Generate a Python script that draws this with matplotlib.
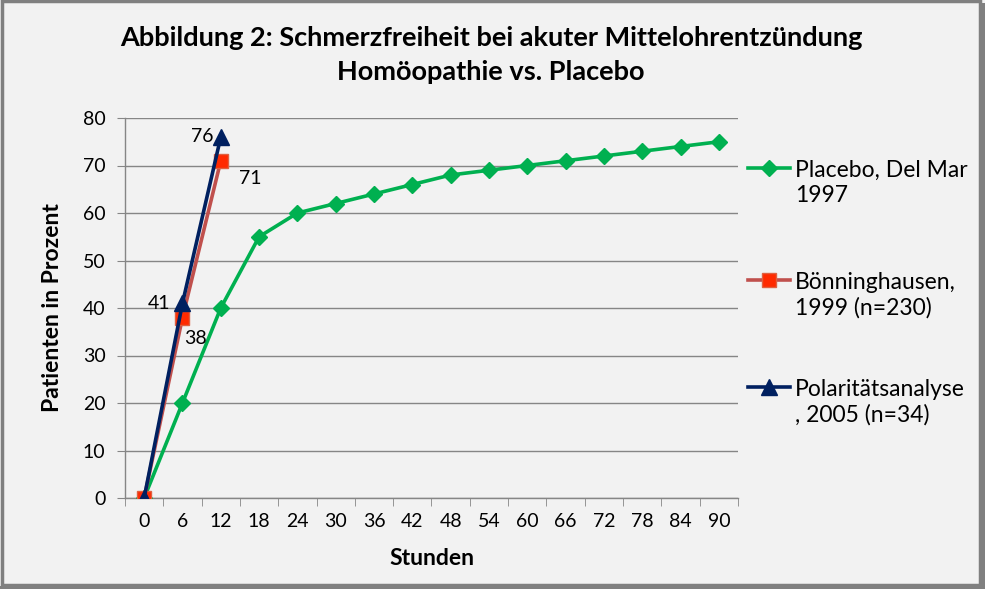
import matplotlib.pyplot as plt
from matplotlib.patches import Rectangle
from matplotlib.lines import Line2D

# Daten
stunden = [0, 6, 12, 18, 24, 30, 36, 42, 48, 54, 60, 66, 72, 78, 84, 90]
placebo = [0, 20, 40, 55, 60, 62, 64, 66, 68, 69, 70, 71, 72, 73, 74, 75]
boenninghausen = [0, 38, 71]
polaritaet = [0, 41, 76]

namen = ['Placebo, Del Mar\n1997', 'Bönninghausen,\n1999 (n=230)', 'Polaritätsanalyse\n, 2005 (n=34)']

plt.rcParams['font.family'] = ['Lato', 'DejaVu Sans']

bg = '#f2f2f2'
W, H = 985, 589
fig = plt.figure(figsize=(9.85, 5.89), dpi=100)
fig.patch.set_facecolor(bg)

# Rahmen mit Schatten
fig.patches.append(Rectangle((0.002, 0.006), 0.993, 0.992, transform=fig.transFigure,
                             facecolor='none', edgecolor='#808080', linewidth=2.5))
fig.patches.append(Rectangle((0.996, 0.0), 0.004, 0.995, transform=fig.transFigure,
                             facecolor='#808080', edgecolor='none'))
fig.patches.append(Rectangle((0.0, 0.0), 0.998, 0.005, transform=fig.transFigure,
                             facecolor='#808080', edgecolor='none'))

ax = fig.add_axes([125 / W, 1 - 498 / H, 613 / W, 380 / H])
ax.set_facecolor(bg)

stile = [
    dict(color='#00b050', lw=2.6, marker='D', ms=8, mfc='#00b050', mec='#00b050'),
    dict(color='#c0504d', lw=2.6, marker='s', ms=10.5, mfc='#ff2a00', mec='#e06040'),
    dict(color='#002060', lw=2.6, marker='^', ms=12, mfc='#002060', mec='#002060'),
]

x = list(range(len(stunden)))
ax.plot(x, placebo, zorder=3, **stile[0])
ax.plot(x[:3], boenninghausen, zorder=4, **stile[1])
ax.plot(x[:3], polaritaet, zorder=5, **stile[2])

# Datenbeschriftungen
ax.annotate(str(polaritaet[1]), (x[1], polaritaet[1]), xytext=(-17, 0), textcoords='offset points',
            ha='center', va='center', fontsize=14)
ax.annotate(str(polaritaet[2]), (x[2], polaritaet[2]), xytext=(-13, 0), textcoords='offset points',
            ha='center', va='center', fontsize=14)
ax.annotate(str(boenninghausen[1]), (x[1], boenninghausen[1]), xytext=(9.5, -15), textcoords='offset points',
            ha='center', va='center', fontsize=14)
ax.annotate(str(boenninghausen[2]), (x[2], boenninghausen[2]), xytext=(21.5, -13), textcoords='offset points',
            ha='center', va='center', fontsize=14)

ax.set_xlim(-0.5, len(stunden) - 0.5)
ax.set_ylim(0, 80)
ax.set_yticks(range(0, 81, 10))
ax.set_xticks(x)
ax.set_xticklabels([str(s) for s in stunden])
ax.set_xticks([i + 0.5 for i in range(-1, len(stunden))], minor=True)
ax.tick_params(axis='x', which='major', length=0, labelsize=14, pad=11)
ax.tick_params(axis='x', which='minor', length=6, color='#868686', direction='out')
ax.tick_params(axis='y', length=6, color='#868686', labelsize=14, pad=8)
ax.grid(axis='y', color='#868686', lw=1)
ax.set_axisbelow(True)
for s in ('top', 'right'):
    ax.spines[s].set_visible(False)
for s in ('left', 'bottom'):
    ax.spines[s].set_color('#868686')
    ax.spines[s].set_linewidth(1)

ax.set_xlabel('Stunden', fontsize=16.5, fontweight='bold', labelpad=13)
ax.set_ylabel('Patienten in Prozent', fontsize=16.5, fontweight='bold', labelpad=14)

fig.text(491 / W, 1 - 38 / H, 'Abbildung 2: Schmerzfreiheit bei akuter Mittelohrentzündung',
         ha='center', va='center', fontsize=19.5, fontweight='bold')
fig.text(491 / W, 1 - 72 / H, 'Homöopathie vs. Placebo', ha='center', va='center',
         fontsize=19.5, fontweight='bold')

# Legende (von Hand, Symbol auf Höhe der ersten Zeile)
for k, y0 in enumerate([168, 280, 387]):
    fig.add_artist(Line2D([748 / W, 790 / W], [1 - y0 / H] * 2, transform=fig.transFigure,
                          **{**stile[k], 'marker': None}))
    fig.add_artist(Line2D([769 / W], [1 - y0 / H], transform=fig.transFigure,
                          **{**stile[k], 'lw': 0}))
    fig.text(795 / W, 1 - (y0 + 15) / H, namen[k], ha='left', va='center', fontsize=16.5,
             linespacing=1.25, transform=fig.transFigure)

fig.savefig('out.png', dpi=100, facecolor=bg)
